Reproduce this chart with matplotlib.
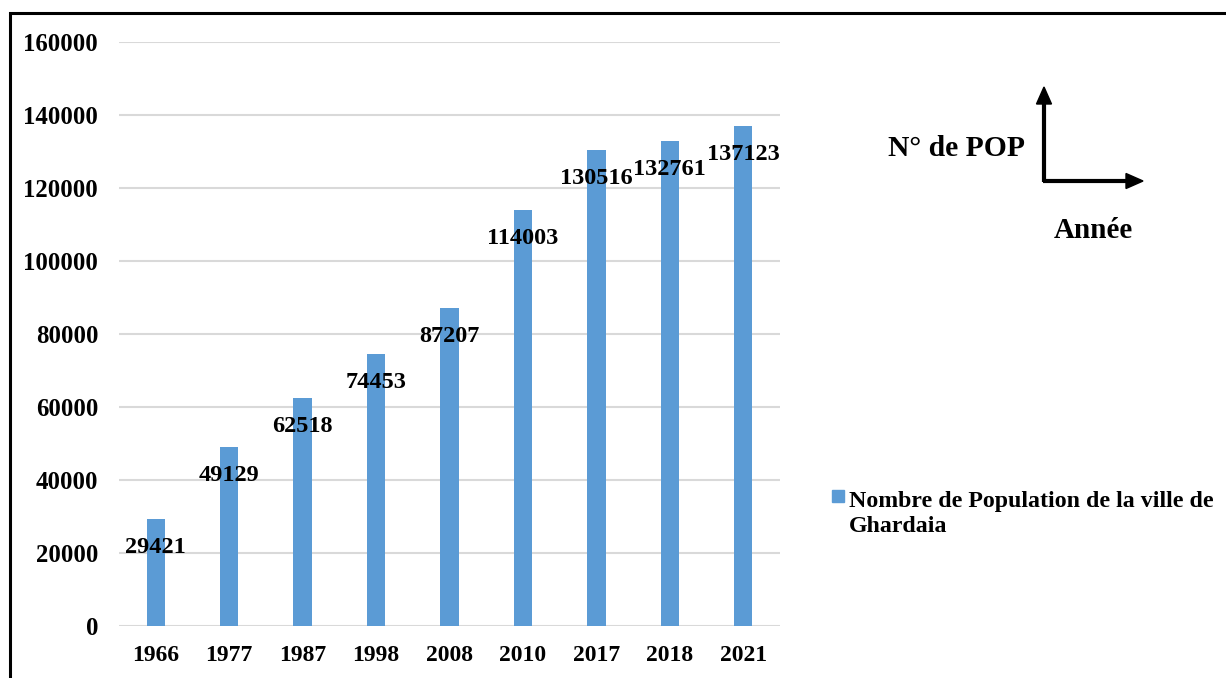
import matplotlib
matplotlib.use("Agg")
import matplotlib.pyplot as plt
from matplotlib.patches import Rectangle

years = ["1966", "1977", "1987", "1998", "2008", "2010", "2017", "2018", "2021"]
population = [29421, 49129, 62518, 74453, 87207, 114003, 130516, 132761, 137123]
y_ticks = [0, 20000, 40000, 60000, 80000, 100000, 120000, 140000, 160000]
series_name = "Nombre de Population de la ville de\nGhardaia"

plt.rcParams['font.family'] = ['Liberation Serif', 'DejaVu Serif']
plt.rcParams['font.weight'] = 'bold'

W, H = 1226, 678
fig = plt.figure(figsize=(W / 100, H / 100), dpi=100)
ax = fig.add_axes([119 / W, 1 - 626 / H, (780 - 119) / W, (626 - 42) / H])

x = list(range(len(years)))
bars = ax.bar(x, population, width=0.25, color="#5B9BD5", zorder=3, label=series_name)

ax.set_xlim(-0.5, len(years) - 0.5)
ax.set_ylim(0, 160000)
ax.set_yticks(y_ticks)
ax.set_yticklabels([str(v) for v in y_ticks], fontsize=17.8, fontweight='bold')
ax.set_xticks(x)
ax.set_xticklabels(years, fontsize=17, fontweight='bold')
ax.tick_params(axis='both', length=0)
ax.tick_params(axis='y', pad=15)
ax.tick_params(axis='x', pad=14)
ax.grid(axis='y', color="#D9D9D9", linewidth=1.5, zorder=0)
for s in ax.spines.values():
    s.set_visible(False)

for xi, v in zip(x, population):
    ax.annotate(str(v), (xi, v), xytext=(0, -28.5), textcoords='offset pixels',
                ha='center', va='center', fontsize=17.5, fontweight='bold', zorder=4)

# legend
fig.patches.append(Rectangle((832 / W, 1 - 502 / H), 12 / W, 12 / H,
                             transform=fig.transFigure, color="#5B9BD5"))
fig.text(849 / W, 1 - 532 / H, series_name, ha='left', va='baseline', fontsize=17.2,
         fontweight='bold', linespacing=1.22)

# arrow diagram
ax_arr = fig.add_axes([0, 0, 1, 1], facecolor='none')
ax_arr.set_xlim(0, W)
ax_arr.set_ylim(H, 0)
ax_arr.axis('off')
ax_arr.plot([1044, 1044], [181.5, 100], color='black', lw=3, solid_capstyle='butt')
ax_arr.plot([1043, 1130], [181, 181], color='black', lw=3, solid_capstyle='butt')
ax_arr.add_patch(plt.Polygon([[1044, 87], [1036.5, 104], [1051.5, 104]], color='black'))
ax_arr.add_patch(plt.Polygon([[1143, 181], [1126, 173.5], [1126, 188.5]], color='black'))
ax_arr.text(1025, 148, "N° de POP", ha='right', va='center', fontsize=21.3, fontweight='bold')
ax_arr.text(1093, 230, "Année", ha='center', va='center', fontsize=21, fontweight='bold')

# outer frame
ax_arr.plot([9.5, 9.5, 1240], [700, 12.5, 12.5], color='black', lw=2.2, solid_joinstyle='miter')

fig.savefig("out.png", dpi=100)
